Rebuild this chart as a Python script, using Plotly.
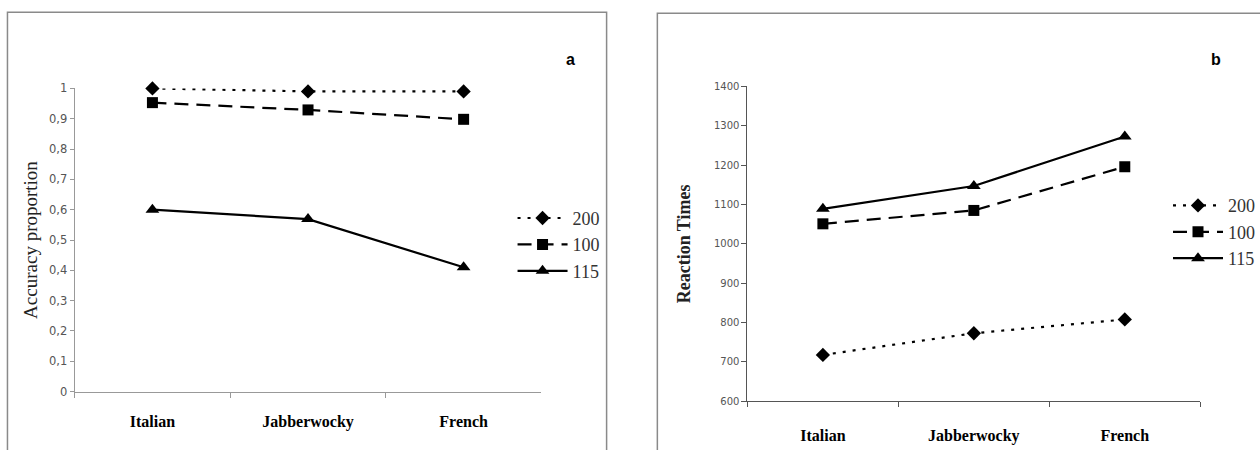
import plotly.graph_objects as go

categories = ["Italian", "Jabberwocky", "French"]
series_names = ["200", "100", "115"]

# Panel a: accuracy proportion
acc_200 = [1.00, 0.99, 0.99]
acc_100 = [0.953, 0.929, 0.898]
acc_115 = [0.600, 0.569, 0.410]

# Panel b: reaction times
rt_200 = [718, 773, 808]
rt_100 = [1051, 1085, 1196]
rt_115 = [1089, 1147, 1273]

acc_ticks = [0, 0.1, 0.2, 0.3, 0.4, 0.5, 0.6, 0.7, 0.8, 0.9, 1]
acc_ticktext = ["0", "0,1", "0,2", "0,3", "0,4", "0,5", "0,6", "0,7", "0,8", "0,9", "1"]

W, H = 1260, 450

def px_x(v):
    return v / W

def px_y(v):
    return 1 - v / H

styles = [
    dict(dash="3px,7px", symbol="diamond", size=11),
    dict(dash="14px,8px", symbol="square", size=11),
    dict(dash="solid", symbol="triangle-up", size=12),
]

fig = go.Figure()

for name, vals, st in zip(series_names, [acc_200, acc_100, acc_115], styles):
    fig.add_trace(go.Scatter(
        x=categories, y=vals, name=name, mode="lines+markers",
        line=dict(color="black", width=2.2, dash=st["dash"]),
        marker=dict(symbol=st["symbol"], size=st["size"], color="black"),
        xaxis="x", yaxis="y", legend="legend", cliponaxis=False,
    ))

for name, vals, st in zip(series_names, [rt_200, rt_100, rt_115], styles):
    fig.add_trace(go.Scatter(
        x=categories, y=vals, name=name, mode="lines+markers",
        line=dict(color="black", width=2.2, dash=st["dash"]),
        marker=dict(symbol=st["symbol"], size=st["size"], color="black"),
        xaxis="x2", yaxis="y2", legend="legend2", cliponaxis=False,
    ))

tickfont_a = dict(family="DejaVu Sans", size=11.5, color="#555555")
tickfont_b = dict(family="DejaVu Sans", size=10, color="#555555")
xfont = dict(family="Liberation Serif", size=16, color="black", weight="bold")

fig.update_layout(
    width=W, height=H,
    margin=dict(l=0, r=0, t=0, b=0),
    paper_bgcolor="white", plot_bgcolor="white",
    xaxis=dict(
        domain=[px_x(75), px_x(544)], anchor="y",
        type="category", tickson="boundaries", range=[-0.5, 2.5],
        showline=True, linecolor="#999999", linewidth=1,
        ticks="outside", ticklen=5, tickcolor="#999999",
        showgrid=False, zeroline=False,
        tickfont=xfont, ticklabelstandoff=15,
    ),
    yaxis=dict(
        domain=[px_y(397), px_y(84)], anchor="x",
        range=[0, 1], tickvals=acc_ticks, ticktext=acc_ticktext,
        showline=True, linecolor="#999999", linewidth=1,
        ticks="outside", ticklen=4, tickcolor="#999999",
        showgrid=False, zeroline=False, tickfont=tickfont_a,
        title=dict(text="Accuracy proportion",
                   font=dict(family="Liberation Serif", size=19, color="#222222"),
                   standoff=6),
    ),
    xaxis2=dict(
        domain=[px_x(751), px_x(1206)], anchor="y2",
        type="category", tickson="boundaries", range=[-0.5, 2.5],
        showline=True, linecolor="#555555", linewidth=1,
        ticks="outside", ticklen=5, tickcolor="#555555",
        showgrid=False, zeroline=False,
        tickfont=xfont, ticklabelstandoff=19,
    ),
    yaxis2=dict(
        domain=[px_y(407), px_y(82)], anchor="x2",
        range=[600, 1400], dtick=100, tick0=600,
        showline=True, linecolor="#555555", linewidth=1,
        ticks="outside", ticklen=5, tickcolor="#555555",
        showgrid=False, zeroline=False, tickfont=tickfont_b,
        title=dict(text="<b>Reaction Times</b>",
                   font=dict(family="Liberation Serif", size=18, color="#222222"),
                   standoff=18),
    ),
    legend=dict(
        x=px_x(515), y=px_y(199), xanchor="left", yanchor="top",
        font=dict(family="Liberation Serif", size=18, color="#333333"),
        itemwidth=50, bgcolor="rgba(0,0,0,0)", tracegroupgap=0,
    ),
    legend2=dict(
        x=px_x(1174), y=px_y(186), xanchor="left", yanchor="top",
        font=dict(family="Liberation Serif", size=18, color="#333333"),
        itemwidth=50, bgcolor="rgba(0,0,0,0)", tracegroupgap=0,
    ),
    showlegend=True,
)

# Panel frames
fig.add_shape(type="rect", xref="paper", yref="paper",
              x0=px_x(7.5), x1=px_x(609.5), y0=px_y(460), y1=px_y(5.5),
              line=dict(color="#8a8a8a", width=1.5), fillcolor="rgba(0,0,0,0)")
fig.add_shape(type="rect", xref="paper", yref="paper",
              x0=px_x(660.5), x1=px_x(1270), y0=px_y(460), y1=px_y(6.5),
              line=dict(color="#8a8a8a", width=1.5), fillcolor="rgba(0,0,0,0)")

# Panel letters
fig.add_annotation(text="<b>a</b>", x=px_x(573), y=px_y(43), xref="paper", yref="paper",
                   showarrow=False, font=dict(family="Liberation Sans", size=16, color="black"))
fig.add_annotation(text="<b>b</b>", x=px_x(1229), y=px_y(43), xref="paper", yref="paper",
                   showarrow=False, font=dict(family="Liberation Sans", size=16, color="black"))

fig.write_html("out.html")
